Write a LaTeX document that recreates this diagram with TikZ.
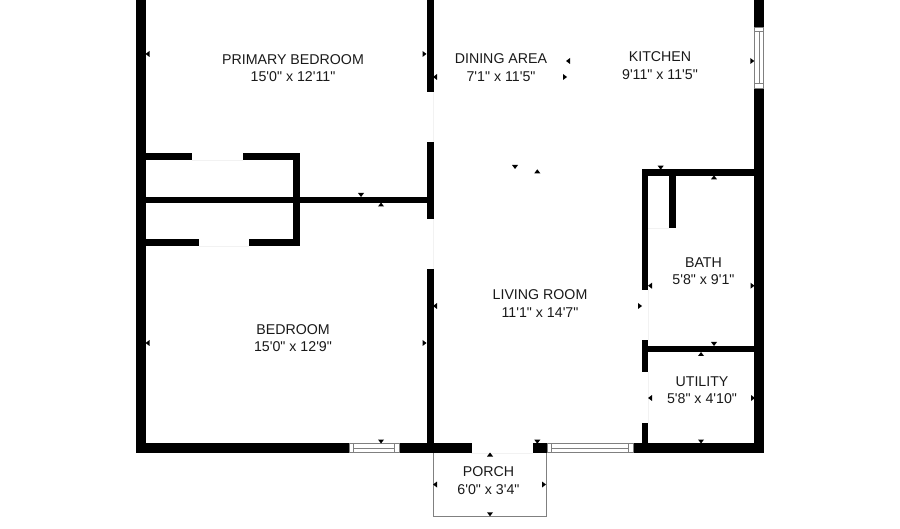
\documentclass[tikz,border=0pt]{standalone}
\usepackage{fontspec}
\setmainfont[Ligatures=TeXOff]{Liberation Sans}
\tikzset{
  wall/.style={fill=black},
  faint/.style={color=black!5, line width=0.8pt},
  frame/.style={color=black!50, line width=1pt},
  pane/.style={draw=black!50, fill=white, line width=0.9pt},
  room/.style={align=center, font=\fontsize{14.2}{17.3}\selectfont, text=black!90, inner sep=0pt},
}
\newcommand{\markD}[2]{\fill (#1-3,#2-2)--(#1+3,#2-2)--(#1,#2+2)--cycle;}
\newcommand{\markU}[2]{\fill (#1-3,#2+2)--(#1+3,#2+2)--(#1,#2-2)--cycle;}
\newcommand{\markL}[2]{\fill (#1+2,#2-3)--(#1+2,#2+3)--(#1-2,#2)--cycle;}
\newcommand{\markR}[2]{\fill (#1-2,#2-3)--(#1-2,#2+3)--(#1+2,#2)--cycle;}
\begin{document}
\begin{tikzpicture}[x=1pt,y=-1pt]
\useasboundingbox (0,0) rectangle (900,529);
% porch and door openings
\draw[frame] (433,453)--(433,516)--(546.5,516)--(546.5,453);
\draw[faint] (471,453.5)--(533,453.5);
\draw[faint] (192,160)--(243,160);
\draw[faint] (199,246)--(249,246);
\draw[faint] (433.5,92)--(433.5,142);
\draw[faint] (433.5,219)--(433.5,269);
\draw[faint] (648,228)--(669,228);
\draw[faint] (648,290)--(648,340);
\draw[faint] (648,372)--(648,423);
% outer walls
\fill[wall] (136,0) rectangle (146,453);
\fill[wall] (136,443.3) rectangle (349,453.3);
\fill[wall] (399,443.3) rectangle (471.5,453.3);
\fill[wall] (533,443.3) rectangle (547,453.3);
\fill[wall] (633,443.3) rectangle (764,453.3);
\fill[wall] (754,0) rectangle (764,27);
\fill[wall] (754,88) rectangle (764,453.3);
% inner walls
\fill[wall] (427,0) rectangle (433.7,92);
\fill[wall] (427,142) rectangle (433.7,219);
\fill[wall] (427,269) rectangle (433.7,443.3);
\fill[wall] (146,153.3) rectangle (192.3,160);
\fill[wall] (243,153.3) rectangle (299.5,160);
\fill[wall] (146,196.7) rectangle (427,203.3);
\fill[wall] (146,239.5) rectangle (199,246.2);
\fill[wall] (249,239.5) rectangle (299.5,246.2);
\fill[wall] (292.8,153.3) rectangle (299.5,246.2);
\fill[wall] (641.7,169.3) rectangle (754,176);
\fill[wall] (641.7,169.3) rectangle (648.3,290);
\fill[wall] (669.3,176) rectangle (676.3,228);
\fill[wall] (641.7,340) rectangle (648.3,372.3);
\fill[wall] (641.7,423.3) rectangle (648.3,443.3);
\fill[wall] (648,345.7) rectangle (754,352.3);
% windows
\draw[pane] (349,443.8) rectangle (399,452.8);
\draw[frame,line width=0.8pt] (353.3,443.8)--(353.3,452.8) (394.5,443.8)--(394.5,452.8) (353.3,448.4)--(394.5,448.4);
\draw[pane] (547,443.8) rectangle (633,452.8);
\draw[frame,line width=0.8pt] (551,443.8)--(551,452.8) (628.5,443.8)--(628.5,452.8) (551,448.4)--(628.5,448.4);
\draw[pane] (754.7,27) rectangle (763.7,88);
\draw[frame,line width=0.8pt] (754.7,31.7)--(763.7,31.7) (754.7,83.3)--(763.7,83.3) (759.2,31.7)--(759.2,83.3);
% dimension marks
\foreach \x/\y in {361/195,381/441.5,515/167,660.7/167.7,714/344,701/441.5,537.3/441.7,490/514.3}{\markD{\x}{\y}}
\foreach \x/\y in {381/204.5,537.3/171.3,714/177.3,701/354,490/454.5}{\markU{\x}{\y}}
\foreach \x/\y in {147.5/54,147.5/343,435/77,568/61,650/285.7,650/398,435/484.5,435/306}{\markL{\x}{\y}}
\foreach \x/\y in {424.5/54,424.5/343,565/77,752.3/61,752.5/285.7,753/398,544/484.5,640/306}{\markR{\x}{\y}}
% labels
\node[room] (primary) at (293,68) {PRIMARY BEDROOM\\15'0" x 12'11"};
\node[room] (dining) at (501,67.5) {DINING AREA\\7'1" x 11'5"};
\node[room] (kitchen) at (660,65.5) {KITCHEN\\9'11" x 11'5"};
\node[room] (bedroom) at (293,338) {BEDROOM\\15'0" x 12'9"};
\node[room] (living) at (540,303.5) {LIVING ROOM\\11'1" x 14'7"};
\node[room] (bath) at (703.5,271.5) {BATH\\5'8" x 9'1"};
\node[room] (utility) at (702,390.5) {UTILITY\\5'8" x 4'10"};
\node[room] (porch) at (488.5,480.5) {PORCH\\6'0" x 3'4"};
\end{tikzpicture}
\end{document}
